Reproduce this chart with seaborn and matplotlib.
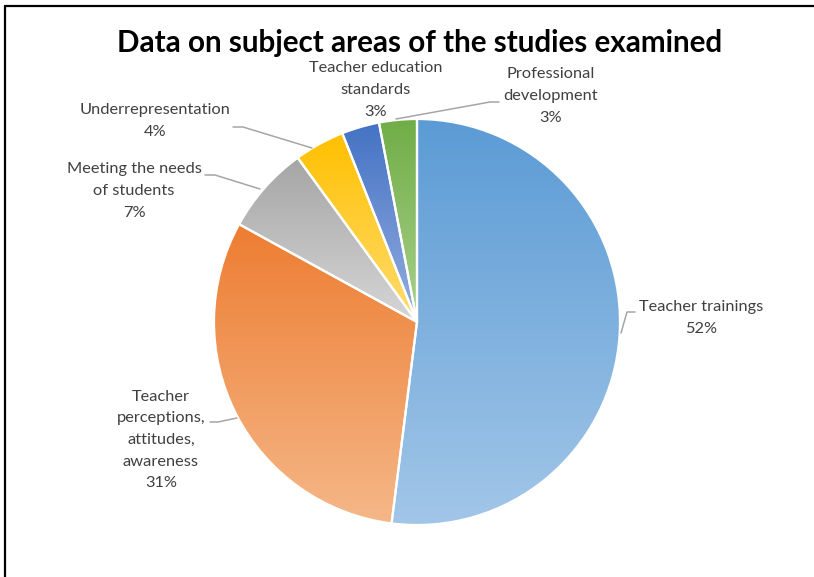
import numpy as np
import matplotlib
matplotlib.use("Agg")
import matplotlib.pyplot as plt
import seaborn as sns
from matplotlib.lines import Line2D

categories = [
    "Teacher trainings",
    "Teacher\nperceptions,\nattitudes,\nawareness",
    "Meeting the needs\nof students",
    "Underrepresentation",
    "Teacher education\nstandards",
    "Professional\ndevelopment",
]
shares = [52, 31, 7, 4, 3, 3]
top_colors = ["#5B9BD5", "#ED7D31", "#A5A5A5", "#FFC000", "#4472C4", "#70AD47"]
bottom_colors = ["#A2C6E8", "#F5B788", "#D6D6D6", "#FFDC70", "#94AEE0", "#AAD18D"]

# layout (pixels in the 814x577 canvas)
W, H = 814, 577
CX, CY, R = 417, 322, 203
label_pos = [(701, 318), (161, 440), (134, 191), (155, 121), (376, 90), (551, 96)]
leaders = [
    [(621, 333), (627, 312), (635, 312)],
    [(237, 418), (218, 422), (210, 422)],
    [(260, 189), (215, 175), (205, 175)],
    [(312, 148), (243, 127), (233, 127)],
    None,
    [(396, 119), (490, 102), (499, 102)],
]


def px(p):
    return ((p[0] - CX) / R, (CY - p[1]) / R)


sns.set_theme(style="white")
plt.rcParams["font.family"] = ["Lato", "DejaVu Sans"]

fig = plt.figure(figsize=(W / 100, H / 100), dpi=100)
ax = fig.add_axes([0, 0, 1, 1])

wedges, _ = ax.pie(shares, startangle=90, counterclock=False, radius=1,
                   colors=top_colors,
                   wedgeprops=dict(edgecolor="white", linewidth=1.6))
ax.set_aspect("equal")
ax.axis("off")

grad = np.linspace(0, 1, 256).reshape(-1, 1)
for w, c0, c1 in zip(wedges, top_colors, bottom_colors):
    cmap = sns.blend_palette([c0, c1], n_colors=256, as_cmap=True)
    bb = w.get_path().get_extents(w.get_patch_transform())
    im = ax.imshow(grad, cmap=cmap, aspect="auto", origin="upper",
                   extent=[bb.x0, bb.x1, bb.y0, bb.y1], zorder=w.get_zorder())
    im.set_clip_path(w)
    w.set_facecolor("none")
    w.set_zorder(im.get_zorder() + 0.1)
ax.set_xlim(-CX / R, (W - CX) / R)
ax.set_ylim(-(H - CY) / R, CY / R)

for cat, val, pos, ld in zip(categories, shares, label_pos, leaders):
    x, y = px(pos)
    ax.text(x, y, f"{cat}\n{val}%", ha="center", va="center", fontsize=11.8,
            color="#404040", linespacing=1.7)
    if ld:
        xs, ys = zip(*[px(p) for p in ld])
        ax.plot(xs, ys, color="#A6A6A6", lw=1.1)

fig.text(420 / W, 1 - 43 / H, "Data on subject areas of the studies examined",
         ha="center", va="center", fontsize=21.3, fontweight="bold", color="black")

# chart frame (left and top edges visible)
fig.add_artist(Line2D([5 / W, 5 / W], [0, 1 - 6 / H], color="black", lw=1.6))
fig.add_artist(Line2D([5 / W, 1], [1 - 6 / H, 1 - 6 / H], color="black", lw=1.6))

fig.savefig("out.png", dpi=100)
